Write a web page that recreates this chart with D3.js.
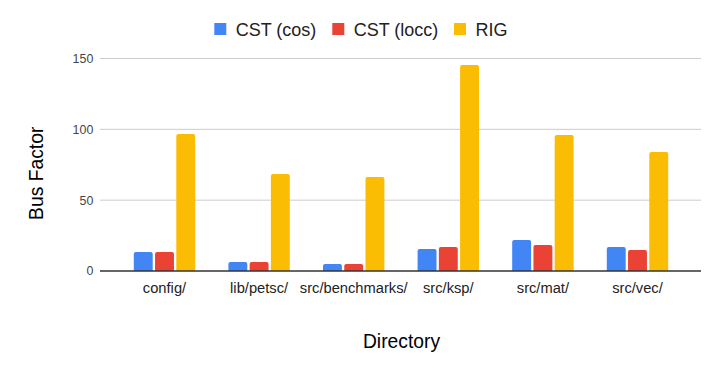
<!DOCTYPE html>
<html><head><meta charset="utf-8">
<script src="https://cdn.jsdelivr.net/npm/d3@7"></script>
<style>body{margin:0;background:#fff}svg{display:block;font-family:"Liberation Sans",Arial,sans-serif}</style>
</head><body><svg id="c" width="720" height="371"></svg>
<script>
const categories = ["config/", "lib/petsc/", "src/benchmarks/", "src/ksp/", "src/mat/", "src/vec/"];
const seriesNames = ["CST (cos)", "CST (locc)", "RIG"];
const cstCos = [13.4, 6.4, 4.9, 15.5, 21.9, 17];
const cstLocc = [13.4, 6.4, 4.9, 17, 18.3, 14.8];
const rig = [96.7, 68.5, 66.4, 145.4, 96, 84];
const colors = ["#4285f4", "#ea4335", "#fbbc04"];
const yTicks = [0, 50, 100, 150];

const seriesVals = [cstCos, cstLocc, rig];
const svg = d3.select("#c");
const plotL = 100, plotR = 701, plotT = 58.5, plotB = 271;

const y = d3.scaleLinear().domain([0, 150]).range([plotB, plotT]);
const x0 = d3.scaleBand().domain(categories).range([117.2, 684.8]);
const groupW = 61.4;
const x1 = d3.scaleBand().domain(seriesNames).range([0, groupW]).paddingInner(0.11);

// gridlines
svg.append("g").selectAll("line").data(yTicks.filter(t => t > 0)).join("line")
  .attr("x1", plotL).attr("x2", plotR)
  .attr("y1", d => y(d)).attr("y2", d => y(d))
  .attr("stroke", "#cccccc").attr("stroke-width", 1);

// y tick labels
svg.append("g").selectAll("text").data(yTicks).join("text")
  .attr("x", 93.3).attr("y", d => y(d)).attr("dy", "0.35em")
  .attr("text-anchor", "end").attr("font-size", 12.4).attr("fill", "#444")
  .text(d => d);

// bars
function topRounded(x, yTop, w, h, r) {
  r = Math.min(r, h, w / 2);
  return `M${x},${yTop + h}V${yTop + r}Q${x},${yTop} ${x + r},${yTop}H${x + w - r}Q${x + w},${yTop} ${x + w},${yTop + r}V${yTop + h}Z`;
}
const barData = [];
categories.forEach((c, i) => seriesNames.forEach((s, j) => barData.push({c, s, v: seriesVals[j][i], j})));
svg.append("g").selectAll("path").data(barData).join("path")
  .attr("fill", d => colors[d.j])
  .attr("d", d => {
    const gx = x0(d.c) + x0.bandwidth() / 2 - groupW / 2 + x1(d.s);
    return topRounded(gx, y(d.v), x1.bandwidth(), y(0) - y(d.v), 2);
  });

// baseline
svg.append("line").attr("x1", plotL).attr("x2", plotR).attr("y1", plotB).attr("y2", plotB)
  .attr("stroke", "#333").attr("stroke-width", 1.3);

// x labels
svg.append("g").selectAll("text").data(categories).join("text")
  .attr("x", d => x0(d) + x0.bandwidth() / 2).attr("y", 293.3)
  .attr("text-anchor", "middle").attr("font-size", 14.7).attr("fill", "#222")
  .text(d => d);

// axis titles
svg.append("text").attr("x", 401.5).attr("y", 347.7).attr("text-anchor", "middle")
  .attr("font-size", 19.3).attr("fill", "#000").text("Directory");
svg.append("text").attr("transform", "translate(43,173.3) rotate(-90)").attr("text-anchor", "middle")
  .attr("font-size", 19.3).attr("fill", "#000").text("Bus Factor");

// legend
const legendX = [214.3, 332.3, 454];
const lg = svg.append("g").selectAll("g").data(seriesNames).join("g")
  .attr("transform", (d, i) => `translate(${legendX[i]},23)`);
lg.append("rect").attr("width", 12).attr("height", 12).attr("fill", (d, i) => colors[i]);
lg.append("text").attr("x", 21.4).attr("y", 12.8).attr("font-size", 18).attr("fill", "#222").text(d => d);
</script></body></html>
